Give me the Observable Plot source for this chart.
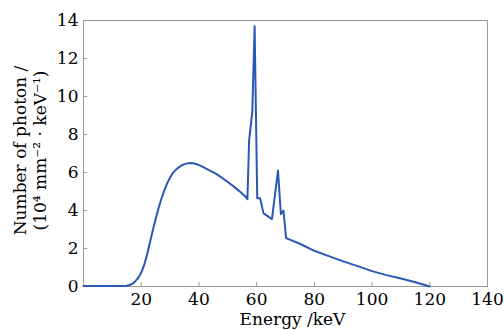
<!DOCTYPE html>
<html><head><meta charset="utf-8">
<script src="https://cdn.jsdelivr.net/npm/d3@7"></script>
<script src="https://cdn.jsdelivr.net/npm/@observablehq/plot@0.6"></script>
<style>body{margin:0;background:#fff;}</style>
</head><body><div id="chart"></div>
<script>
const energy = [0, 5, 10, 14, 15, 16, 17, 18, 19, 20, 21, 22, 23, 24, 25, 26, 27, 28, 29, 30,
  31, 32, 33, 34, 35, 36, 37, 38, 39, 40, 41, 42, 43, 44, 46, 48, 50, 52, 54, 56, 56.8,
  57.4, 58.5, 59.3, 60.2, 61.2, 62.4, 65.3, 67.4, 68.4, 69.3, 70.2,
  75, 80, 85, 90, 95, 100, 105, 110, 115, 120];
const photons = [0.02, 0.02, 0.02, 0.02, 0.04, 0.08, 0.15, 0.28, 0.46, 0.72, 1.12, 1.66, 2.3, 2.95, 3.55, 4.12, 4.62, 5.06, 5.43, 5.74,
  5.98, 6.14, 6.27, 6.37, 6.44, 6.48, 6.5, 6.49, 6.45, 6.39, 6.32, 6.24, 6.16, 6.09, 5.93, 5.72, 5.5, 5.27, 5.02, 4.75, 4.6,
  7.7, 9.2, 13.7, 4.65, 4.65, 3.85, 3.55, 6.1, 3.8, 4.0, 2.55,
  2.25, 1.88, 1.6, 1.32, 1.07, 0.81, 0.6, 0.42, 0.22, 0.0];
const xTicks = [20, 40, 60, 80, 100, 120, 140];
const yTicks = [0, 2, 4, 6, 8, 10, 12, 14];
const xLabel = "Energy /keV";
const yLabel1 = "Number of photon /";
const yLabel2 = "(10⁴ mm⁻² · keV⁻¹)";

const data = energy.map((e, i) => ({energy: e, photons: photons[i]}));
const gray = "#9a9a9a";
const fs = 17;
const chart = Plot.plot({
  width: 504, height: 330,
  marginLeft: 83, marginRight: 17, marginTop: 20, marginBottom: 44,
  style: {fontFamily: "DejaVu Serif", fontSize: fs + "px", color: "#000", background: "#fff", overflow: "visible"},
  x: {domain: [0, 140]},
  y: {domain: [0, 14]},
  marks: [
    Plot.frame({stroke: gray}),
    Plot.tickX(xTicks, {x: d => d, stroke: gray, insetTop: 262}),
    Plot.tickY(yTicks, {y: d => d, stroke: gray, insetRight: 400}),
    Plot.axisX(xTicks, {tickSize: 0, tickPadding: 6, label: null, fontSize: fs}),
    Plot.axisY(yTicks, {tickSize: 0, tickPadding: 5, label: null, fontSize: fs}),
    Plot.line(data, {x: "energy", y: "photons", stroke: "#2a58b6", strokeWidth: 2}),
    Plot.text([xLabel], {text: d => d, frameAnchor: "bottom", textAnchor: "middle", dy: 26, dx: 7, lineAnchor: "top", fontSize: fs}),
    Plot.text([yLabel1], {text: d => d, frameAnchor: "left", textAnchor: "middle", rotate: -90, dx: -63, dy: -3, fontSize: fs}),
    Plot.text([yLabel2], {text: d => d, frameAnchor: "left", textAnchor: "middle", rotate: -90, dx: -43, dy: -3, fontSize: fs})
  ]
});
document.getElementById("chart").append(chart);
</script>
</body></html>
